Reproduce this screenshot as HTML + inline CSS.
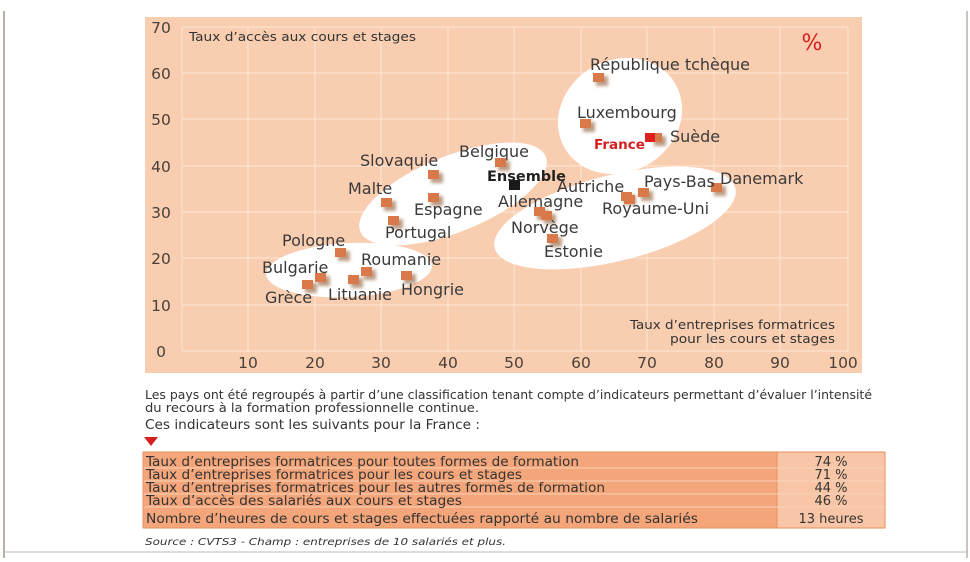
<!DOCTYPE html>
<html><head><meta charset="utf-8"><style>
body{margin:0;background:#fff;width:970px;height:558px;overflow:hidden;font-family:"DejaVu Sans","Liberation Sans",sans-serif;}
</style></head><body>
<svg width="970" height="558" viewBox="0 0 970 558" xmlns="http://www.w3.org/2000/svg" font-family="DejaVu Sans, Liberation Sans, sans-serif">
<defs><filter id="sh" x="-50%" y="-50%" width="200%" height="200%"><feGaussianBlur stdDeviation="1.5"/></filter></defs>
<line x1="4" y1="11" x2="4" y2="558" stroke="#b8b0a8" stroke-width="2"/>
<line x1="967" y1="11" x2="967" y2="558" stroke="#b8b0a8" stroke-width="1.5"/>
<rect x="145" y="17" width="717" height="356" fill="#f9cdb0"/>
<g stroke="#fde6d6" stroke-width="1">
<line x1="182" y1="27" x2="848" y2="27"/><line x1="182" y1="73" x2="848" y2="73"/><line x1="182" y1="119" x2="848" y2="119"/><line x1="182" y1="166" x2="848" y2="166"/><line x1="182" y1="212" x2="848" y2="212"/><line x1="182" y1="258" x2="848" y2="258"/><line x1="182" y1="305" x2="848" y2="305"/>
<line x1="248" y1="27" x2="248" y2="351"/><line x1="315" y1="27" x2="315" y2="351"/><line x1="381" y1="27" x2="381" y2="351"/><line x1="448" y1="27" x2="448" y2="351"/><line x1="514" y1="27" x2="514" y2="351"/><line x1="581" y1="27" x2="581" y2="351"/><line x1="647" y1="27" x2="647" y2="351"/><line x1="714" y1="27" x2="714" y2="351"/><line x1="780" y1="27" x2="780" y2="351"/><line x1="848" y1="27" x2="848" y2="351"/>
<line x1="182" y1="27" x2="182" y2="351"/><line x1="182" y1="351" x2="848" y2="351"/>
</g>
<g fill="#4a4038" font-size="15.5" text-anchor="middle">
<text x="161" y="33">70</text><text x="161" y="79">60</text><text x="161" y="125">50</text><text x="161" y="172">40</text><text x="161" y="218">30</text><text x="161" y="264">20</text><text x="161" y="311">10</text><text x="161" y="357">0</text>
<text x="248" y="368">10</text><text x="315" y="368">20</text><text x="381" y="368">30</text><text x="448" y="368">40</text><text x="514" y="368">50</text><text x="581" y="368">60</text><text x="647" y="368">70</text><text x="714" y="368">80</text><text x="780" y="368">90</text><text x="843" y="368">100</text>
</g>
<text x="189" y="41" font-size="12" fill="#333" textLength="227" lengthAdjust="spacingAndGlyphs">Taux d’accès aux cours et stages</text>
<text x="812" y="50" font-size="22" fill="#d62020" text-anchor="middle">%</text>
<text x="630" y="329" font-size="12" fill="#333" textLength="205" lengthAdjust="spacingAndGlyphs">Taux d’entreprises formatrices</text>
<text x="670" y="343" font-size="12" fill="#333" textLength="165" lengthAdjust="spacingAndGlyphs">pour les cours et stages</text>
<g fill="#fff">
<ellipse cx="620" cy="116" rx="64" ry="56" transform="rotate(-30 620 116)"/>
<ellipse cx="453" cy="194" rx="100" ry="38" transform="rotate(-22 453 194)"/>
<ellipse cx="615" cy="218" rx="124" ry="43" transform="rotate(-14 615 218)"/>
<ellipse cx="349" cy="270" rx="83" ry="27" transform="rotate(-3 349 270)"/>
</g>
<g>
<g fill="#7a3a10" opacity="0.5" filter="url(#sh)">
<rect x="596" y="76" width="12" height="10"/><rect x="583" y="122" width="12" height="10"/><rect x="654" y="136" width="12" height="10"/><rect x="498" y="161" width="12" height="10"/><rect x="431" y="173" width="12" height="10"/><rect x="384" y="201" width="12" height="10"/><rect x="431" y="196" width="12" height="10"/><rect x="391" y="219" width="12" height="10"/><rect x="624" y="195" width="12" height="10"/><rect x="641" y="191" width="12" height="10"/><rect x="714" y="186" width="12" height="10"/><rect x="537" y="210" width="12" height="10"/><rect x="544" y="214" width="12" height="10"/><rect x="550" y="237" width="12" height="10"/><rect x="338" y="251" width="12" height="10"/><rect x="364" y="270" width="12" height="10"/><rect x="318" y="276" width="12" height="10"/><rect x="305" y="283" width="12" height="10"/><rect x="351" y="278" width="12" height="10"/><rect x="404" y="274" width="12" height="10"/>
</g>
<g fill="#d9794a">
<rect x="593" y="73" width="11" height="9"/><rect x="580" y="119" width="11" height="9"/><rect x="651" y="133" width="11" height="9"/><rect x="495" y="158" width="11" height="9"/><rect x="428" y="170" width="11" height="9"/><rect x="381" y="198" width="11" height="9"/><rect x="428" y="193" width="11" height="9"/><rect x="388" y="216" width="11" height="9"/><rect x="621" y="192" width="11" height="9"/><rect x="624" y="195" width="11" height="9"/><rect x="638" y="188" width="11" height="9"/><rect x="711" y="183" width="11" height="9"/><rect x="534" y="207" width="11" height="9"/><rect x="541" y="211" width="11" height="9"/><rect x="547" y="234" width="11" height="9"/><rect x="335" y="248" width="11" height="9"/><rect x="361" y="267" width="11" height="9"/><rect x="315" y="273" width="11" height="9"/><rect x="302" y="280" width="11" height="9"/><rect x="348" y="275" width="11" height="9"/><rect x="401" y="271" width="11" height="9"/>
</g>
<rect x="645" y="133" width="10" height="9" fill="#e02020"/>
<rect x="509" y="180" width="11" height="10" fill="#1a1a1a"/>
</g>
<g fill="#3a3a3a" font-size="16">
<text x="590" y="70">République tchèque</text>
<text x="577" y="118">Luxembourg</text>
<text x="670" y="142">Suède</text>
<text x="594" y="149" fill="#d62020" font-weight="bold" font-size="13.5">France</text>
<text x="459" y="157">Belgique</text>
<text x="360" y="166">Slovaquie</text>
<text x="487" y="181" font-weight="bold" fill="#222" font-size="14.5">Ensemble</text>
<text x="348" y="194">Malte</text>
<text x="414" y="215">Espagne</text>
<text x="385" y="238">Portugal</text>
<text x="557" y="192">Autriche</text>
<text x="644" y="187">Pays-Bas</text>
<text x="720" y="184">Danemark</text>
<text x="498" y="207">Allemagne</text>
<text x="602" y="214">Royaume-Uni</text>
<text x="511" y="233">Norvège</text>
<text x="544" y="257">Estonie</text>
<text x="282" y="246">Pologne</text>
<text x="361" y="265">Roumanie</text>
<text x="262" y="273">Bulgarie</text>
<text x="265" y="303">Grèce</text>
<text x="328" y="300">Lituanie</text>
<text x="401" y="295">Hongrie</text>
</g>
<g fill="#333" font-size="12">
<text x="145" y="399" textLength="727" lengthAdjust="spacingAndGlyphs">Les pays ont été regroupés à partir d’une classification tenant compte d’indicateurs permettant d’évaluer l’intensité</text>
<text x="145" y="412" textLength="334" lengthAdjust="spacingAndGlyphs">du recours à la formation professionnelle continue.</text>
<text x="145" y="429" font-size="13" textLength="335" lengthAdjust="spacingAndGlyphs">Ces indicateurs sont les suivants pour la France :</text>
</g>
<polygon points="144,437 158,437 151,446" fill="#d62020"/>
<rect x="143" y="452" width="634" height="76" fill="#f4a67a" stroke="#e89060"/>
<rect x="777" y="452" width="108" height="76" fill="#f8c6a6" stroke="#e89060"/>
<g stroke="#f9d2bb" stroke-width="1"><line x1="144" y1="468" x2="884" y2="468"/><line x1="144" y1="481" x2="884" y2="481"/><line x1="144" y1="494" x2="884" y2="494"/><line x1="144" y1="507" x2="884" y2="507"/></g>
<g fill="#333" font-size="13" lengthAdjust="spacingAndGlyphs">
<text x="146" y="466" textLength="433" lengthAdjust="spacingAndGlyphs">Taux d’entreprises formatrices pour toutes formes de formation</text>
<text x="146" y="479" textLength="376" lengthAdjust="spacingAndGlyphs">Taux d’entreprises formatrices pour les cours et stages</text>
<text x="146" y="492" textLength="459" lengthAdjust="spacingAndGlyphs">Taux d’entreprises formatrices pour les autres formes de formation</text>
<text x="146" y="505" textLength="316" lengthAdjust="spacingAndGlyphs">Taux d’accès des salariés aux cours et stages</text>
<text x="146" y="523" textLength="552" lengthAdjust="spacingAndGlyphs">Nombre d’heures de cours et stages effectuées rapporté au nombre de salariés</text>
<g text-anchor="middle"><text x="831" y="466">74 %</text><text x="831" y="479">71 %</text><text x="831" y="492">44 %</text><text x="831" y="505">46 %</text><text x="831" y="523">13 heures</text></g>
</g>
<text x="145" y="545" font-size="10" font-style="italic" fill="#333" textLength="361" lengthAdjust="spacingAndGlyphs">Source : CVTS3 - Champ : entreprises de 10 salariés et plus.</text>
<line x1="4" y1="552" x2="967" y2="552" stroke="#c0b8b0" stroke-width="1"/>
</svg>
</body></html>
